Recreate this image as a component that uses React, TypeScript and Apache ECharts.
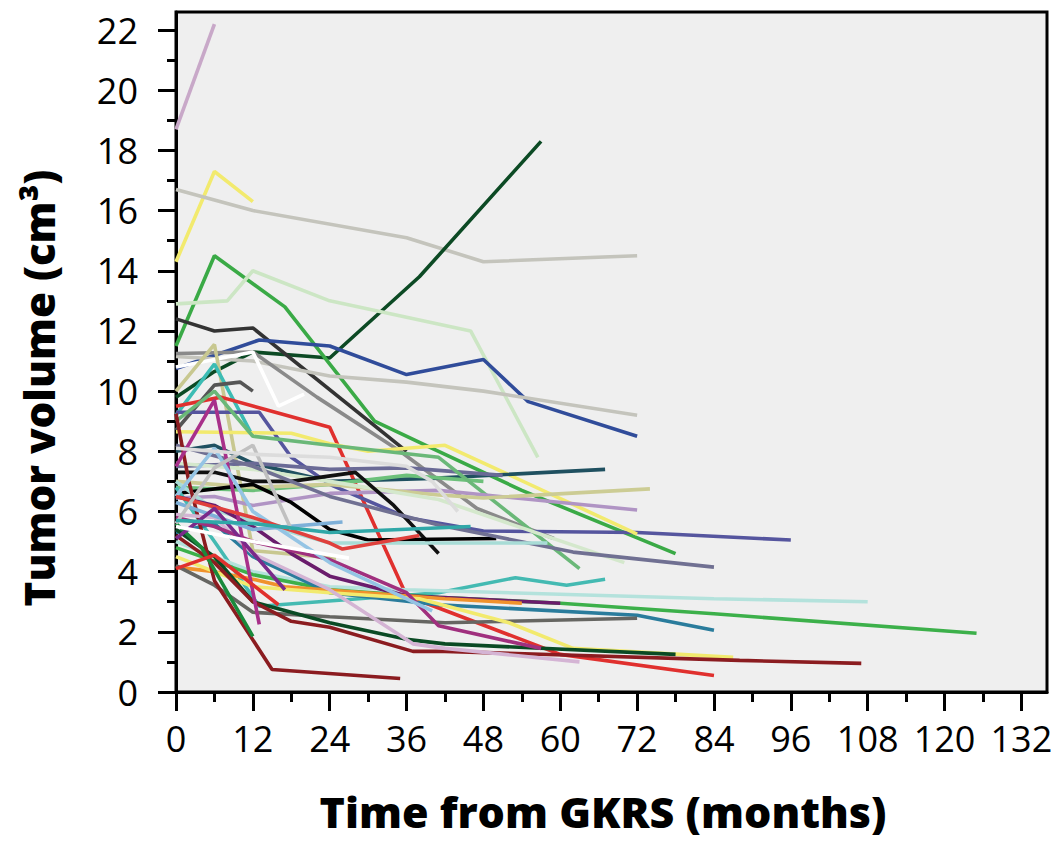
import React, { useEffect, useRef } from "react";
import * as echarts from "echarts";

type Pt = [number, number];

// Tick values
const xTickValues = [0, 12, 24, 36, 48, 60, 72, 84, 96, 108, 120, 132];
const xMinorValues = [6, 18, 30, 42, 54, 66, 78, 90, 102, 114, 126];
const yTickValues = [0, 2, 4, 6, 8, 10, 12, 14, 16, 18, 20, 22];
const yMinorValues = [1, 3, 5, 7, 9, 11, 13, 15, 17, 19, 21];

// Patient trajectories: [months from GKRS, tumor volume cm3]
const p01: Pt[] = [[0, 18.7], [6, 22.2]];
const p02: Pt[] = [[0, 14.3], [6, 17.3], [12, 16.3]];
const p03: Pt[] = [[0, 16.7], [12, 16.0], [36, 15.1], [48, 14.3], [72, 14.5]];
const p04: Pt[] = [[0, 9.8], [6, 10.65], [12, 11.3], [24, 11.1], [38, 13.8], [57, 18.3]];
const p05: Pt[] = [[0, 11.5], [6, 14.5], [17, 12.8], [31, 9.0], [40, 8.1], [54, 6.7], [78, 4.6]];
const p06: Pt[] = [[0, 12.9], [8, 13.0], [12, 14.0], [24, 13.0], [46, 12.0], [56.5, 7.8]];
const p07: Pt[] = [[0, 12.4], [6, 12.0], [12, 12.1], [36, 8.0]];
const p08: Pt[] = [[0, 10.75], [13, 11.7], [24, 11.5], [36, 10.55], [48, 11.05], [55, 9.65], [72, 8.5]];
const p09: Pt[] = [[0, 11.15], [12, 11.0], [24, 10.5], [36, 10.3], [48, 10.0], [72, 9.2]];
const p10: Pt[] = [[0, 11.25], [12, 11.3], [22, 9.8], [35, 8.0], [47, 6.1], [59, 5.1]];
const p11: Pt[] = [[0, 10.8], [12, 11.3], [16, 9.5], [20, 9.9]];
const p12: Pt[] = [[0, 10.0], [6, 11.55], [12, 4.7], [25, 4.45]];
const p13: Pt[] = [[0, 9.2], [6, 10.9], [12, 8.5]];
const p14: Pt[] = [[0, 8.7], [6, 10.2], [10, 10.3], [12, 10.0]];
const p15: Pt[] = [[0, 9.5], [7, 9.8], [24, 8.8], [36, 3.2], [60, 1.25], [84, 0.55]];
const p16: Pt[] = [[0, 9.3], [13, 9.3], [18, 7.8], [24, 6.9], [36, 5.8], [48, 5.35], [72, 5.3], [96, 5.05]];
const p17: Pt[] = [[0, 8.65], [18, 8.6], [24, 8.25], [30, 8.0], [42, 8.2], [72, 5.25]];
const p18: Pt[] = [[0, 8.0], [6, 8.2], [12, 7.6], [24, 7.0], [40, 7.1], [67, 7.4]];
const p19: Pt[] = [[0, 7.5], [12, 7.6], [24, 7.4], [36, 7.45], [51, 7.2]];
const p20: Pt[] = [[0, 6.8], [12, 6.7], [24, 6.9], [36, 7.2], [48, 7.0]];
const p21: Pt[] = [[0, 9.0], [6, 10.0], [12, 8.5], [24, 8.2], [41, 7.8], [63, 4.1]];
const p22: Pt[] = [[0, 6.45], [6, 6.5], [12, 6.2], [24, 6.6], [41, 6.7], [72, 6.05]];
const p23: Pt[] = [[0, 7.0], [12, 6.8], [24, 6.9], [41, 6.55], [48, 6.45], [74, 6.75]];
const p24: Pt[] = [[0, 7.6], [12, 7.4], [24, 7.0], [41, 6.4], [70, 4.3]];
const p25: Pt[] = [[0, 7.3], [6, 7.3], [12, 7.0], [18, 7.0], [28, 7.3], [34, 6.2], [41, 4.6]];
const p26: Pt[] = [[0, 6.6], [12, 6.9], [18, 6.3], [24, 5.4], [30, 5.05], [50, 5.1]];
const p27: Pt[] = [[0, 8.2], [12, 7.5], [24, 6.5], [41, 5.55], [62, 4.65], [84, 4.15]];
const p28: Pt[] = [[0, 7.0], [6, 6.05], [24, 4.95], [46, 4.95], [58, 4.95]];
const p29: Pt[] = [[0, 6.8], [6, 5.0], [13, 2.85], [41, 3.3], [53, 3.8], [61, 3.55], [67, 3.75]];
const p30: Pt[] = [[0, 5.0], [12, 4.0], [24, 3.5], [36, 3.4], [84, 3.1], [108, 3.0]];
const p31: Pt[] = [[0, 4.8], [12, 3.9], [24, 3.4], [41, 3.15], [60, 2.95], [84, 2.6], [125, 1.95]];
const p32: Pt[] = [[0, 5.3], [6, 5.6], [12, 4.5], [24, 3.3], [41, 2.9], [72, 2.55], [84, 2.05]];
const p33: Pt[] = [[0, 6.5], [6, 6.2], [12, 5.5], [18, 4.6], [24, 3.85], [36, 3.2], [60, 2.95]];
const p34: Pt[] = [[0, 4.15], [6, 4.0], [12, 3.75], [17, 3.5], [42, 3.1], [54, 2.95]];
const p35: Pt[] = [[0, 4.2], [6, 3.55], [12, 2.65], [24, 2.5], [42, 2.3], [72, 2.45]];
const p36: Pt[] = [[0, 4.5], [12, 3.5], [24, 3.3], [38, 3.1], [52, 2.3], [62, 1.45], [87, 1.15]];
const p37: Pt[] = [[0, 5.4], [6, 4.5], [12, 3.0], [24, 2.3], [36, 1.75], [42, 1.6], [78, 1.25]];
const p38: Pt[] = [[0, 5.2], [6, 4.3], [12, 3.0], [18, 2.35], [24, 2.15], [37, 1.35], [42, 1.35], [88, 1.05], [107, 0.95]];
const p39: Pt[] = [[0, 9.25], [2, 7.0], [6, 3.7], [15, 0.75], [35, 0.45]];
const p40: Pt[] = [[0, 5.9], [6, 5.8], [12, 4.6], [24, 3.4], [37, 1.6], [42, 1.45], [63, 1.0]];
const p41: Pt[] = [[0, 5.8], [6, 5.5], [12, 5.0], [24, 4.4], [36, 3.3], [41, 2.2], [57, 1.45]];
const p42: Pt[] = [[0, 7.5], [6, 9.7], [10, 5.5], [13, 2.25]];
const p43: Pt[] = [[0, 6.5], [6, 8.1], [12, 6.0], [24, 4.3], [40, 2.7]];
const p44: Pt[] = [[0, 6.3], [12, 5.4], [26, 5.65]];
const p45: Pt[] = [[0, 5.6], [4, 4.8], [12, 1.85]];
const p46: Pt[] = [[0, 4.1], [6, 4.55], [16, 2.9]];
const p47: Pt[] = [[0, 6.5], [12, 5.8], [24, 4.95], [26, 4.75], [38, 5.2]];
const p48: Pt[] = [[0, 5.1], [6, 6.1], [17, 3.4]];
const p49: Pt[] = [[0, 5.6], [6, 7.45], [12, 8.2], [18, 5.4]];
const p50: Pt[] = [[0, 8.1], [12, 7.9], [24, 7.8], [36, 7.5], [40, 7.0], [44, 6.0]];
const p51: Pt[] = [[0, 5.5], [12, 5.0], [27, 4.45]];
const p52: Pt[] = [[0, 5.7], [12, 5.6], [24, 5.3], [46, 5.5]];

const patients: Pt[][] = [
  p01, p02, p03, p04, p05, p06, p07, p08, p09, p10, p11, p12, p13, p14, p15, p16, p17, p18,
  p19, p20, p21, p22, p23, p24, p25, p26, p27, p28, p29, p30, p31, p32, p33, p34, p35, p36,
  p37, p38, p39, p40, p41, p42, p43, p44, p45, p46, p47, p48, p49, p50, p51, p52,
];

const colors: string[] = [
  "#c8a8c8", "#f2ea6e", "#c4c4bc", "#0c4a24", "#3aaa46", "#cce6c4", "#333333", "#304c9a",
  "#c4c4bc", "#8a8a8a", "#ffffff", "#c8c890", "#3cbcb4", "#555555", "#e0302e", "#55559e",
  "#f2ea6e", "#1f5060", "#6a6a96", "#6cc07a", "#6ab878", "#b094c4", "#cccc94", "#d4e8cc",
  "#111111", "#000000", "#707092", "#a8dcd6", "#44bab2", "#b4e2dc", "#3cb04a", "#2a7c9c",
  "#6a1c6c", "#f0922c", "#666662", "#f2ea6e", "#0a4a24", "#8b1c20", "#8b1c20", "#d4b4d4",
  "#a0307e", "#a8308a", "#94c4e4", "#7eb0d8", "#1a8a3c", "#e0302e", "#e0403c", "#7a2a8a",
  "#c0c0c0", "#dcdcdc", "#ffffff", "#30a8a8",
];

const FONT = "Open Sans";

export default function App() {
  const ref = useRef<HTMLDivElement>(null);
  useEffect(() => {
    document.body.style.margin = "0";
    const chart = echarts.init(ref.current!, null, { renderer: "svg" });
    const tickStyle = { color: "#000", width: 3 };
    const option: any = {
      animation: false,
      grid: {
        left: 176,
        right: 12,
        top: 12,
        bottom: 150,
        show: true,
        backgroundColor: "#efefef",
        borderColor: "#000",
        borderWidth: 3,
      },
      xAxis: [
        {
          type: "value",
          min: 0,
          max: 136,
          position: "bottom",
          axisLine: { show: true, onZero: false, lineStyle: tickStyle },
          splitLine: { show: false },
          axisTick: { show: true, customValues: xTickValues, length: 19, lineStyle: tickStyle },
          axisLabel: {
            customValues: xTickValues,
            fontSize: 36,
            color: "#000",
            margin: 28,
            fontFamily: FONT,
          },
        },
        {
          type: "value",
          min: 0,
          max: 136,
          position: "bottom",
          axisLine: { show: false, onZero: false },
          splitLine: { show: false },
          axisTick: { show: true, customValues: xMinorValues, length: 10, lineStyle: tickStyle },
          axisLabel: { show: false },
        },
      ],
      yAxis: [
        {
          type: "value",
          min: 0,
          max: 22.6,
          position: "left",
          axisLine: { show: true, onZero: false, lineStyle: tickStyle },
          splitLine: { show: false },
          axisTick: { show: true, customValues: yTickValues, length: 18, lineStyle: tickStyle },
          axisLabel: {
            customValues: yTickValues,
            fontSize: 36,
            color: "#000",
            margin: 38,
            fontFamily: FONT,
          },
        },
        {
          type: "value",
          min: 0,
          max: 22.6,
          position: "left",
          axisLine: { show: false, onZero: false },
          splitLine: { show: false },
          axisTick: { show: true, customValues: yMinorValues, length: 9, lineStyle: tickStyle },
          axisLabel: { show: false },
        },
      ],
      series: patients.map((d, i) => ({
        type: "line",
        data: d,
        xAxisIndex: 0,
        yAxisIndex: 0,
        symbol: "none",
        silent: true,
        lineStyle: { width: 3.6, color: colors[i] },
        itemStyle: { color: colors[i] },
      })),
      graphic: [
        {
          type: "text",
          x: 38,
          y: 388,
          rotation: Math.PI / 2,
          style: {
            text: "Tumor volume (cm³)",
            font: `800 42px "${FONT}"`,
            fill: "#000",
            align: "center",
            verticalAlign: "middle",
          },
        },
        {
          type: "text",
          x: 603,
          y: 811,
          style: {
            text: "Time from GKRS (months)",
            font: `800 43px "${FONT}"`,
            fill: "#000",
            align: "center",
            verticalAlign: "middle",
          },
        },
      ],
    };
    chart.setOption(option);
    return () => chart.dispose();
  }, []);
  return <div ref={ref} style={{ width: 1059, height: 842 }} />;
}
